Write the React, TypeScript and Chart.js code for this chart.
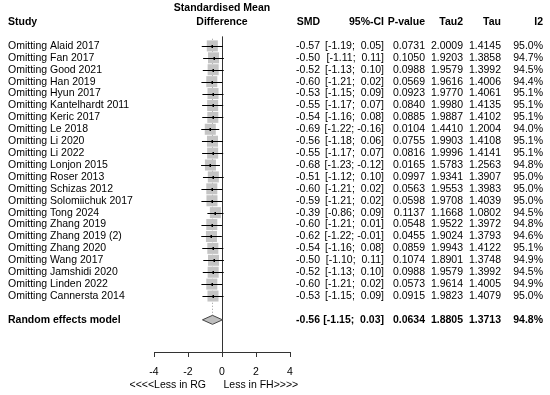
import React, { useEffect, useRef } from "react";
import { Chart, registerables } from "chart.js";

Chart.register(...registerables);

const studies = [
  "Omitting Alaid 2017", "Omitting Fan 2017", "Omitting Good 2021", "Omitting Han 2019",
  "Omitting Hyun 2017", "Omitting Kantelhardt 2011", "Omitting Keric 2017", "Omitting Le 2018",
  "Omitting Li 2020", "Omitting Li 2022", "Omitting Lonjon 2015", "Omitting Roser 2013",
  "Omitting Schizas 2012", "Omitting Solomiichuk 2017", "Omitting Tong 2024", "Omitting Zhang 2019",
  "Omitting Zhang 2019 (2)", "Omitting Zhang 2020", "Omitting Wang 2017", "Omitting Jamshidi 2020",
  "Omitting Linden 2022", "Omitting Cannersta 2014",
];
const smd = [-0.57, -0.5, -0.52, -0.6, -0.53, -0.55, -0.54, -0.69, -0.56, -0.55, -0.68, -0.51, -0.6, -0.59, -0.39, -0.6, -0.62, -0.54, -0.5, -0.52, -0.6, -0.53];
const ciLower = [-1.19, -1.11, -1.13, -1.21, -1.15, -1.17, -1.16, -1.22, -1.18, -1.17, -1.23, -1.12, -1.21, -1.21, -0.86, -1.21, -1.22, -1.16, -1.1, -1.13, -1.21, -1.15];
const ciUpper = [0.05, 0.11, 0.1, 0.02, 0.09, 0.07, 0.08, -0.16, 0.06, 0.07, -0.12, 0.1, 0.02, 0.02, 0.09, 0.01, -0.01, 0.08, 0.11, 0.1, 0.02, 0.09];
const pValue = [0.0731, 0.105, 0.0988, 0.0569, 0.0923, 0.084, 0.0885, 0.0104, 0.0755, 0.0816, 0.0165, 0.0997, 0.0563, 0.0598, 0.1137, 0.0548, 0.0455, 0.0859, 0.1074, 0.0988, 0.0573, 0.0915];
const tau2 = [2.0009, 1.9203, 1.9579, 1.9616, 1.977, 1.998, 1.9887, 1.441, 1.9903, 1.9996, 1.5783, 1.9341, 1.9553, 1.9708, 1.1668, 1.9522, 1.9024, 1.9943, 1.8901, 1.9579, 1.9614, 1.9823];
const tau = [1.4145, 1.3858, 1.3992, 1.4006, 1.4061, 1.4135, 1.4102, 1.2004, 1.4108, 1.4141, 1.2563, 1.3907, 1.3983, 1.4039, 1.0802, 1.3972, 1.3793, 1.4122, 1.3748, 1.3992, 1.4005, 1.4079];
const i2 = [95.0, 94.7, 94.5, 94.4, 95.1, 95.1, 95.1, 94.0, 95.1, 95.1, 94.8, 95.0, 95.0, 95.0, 94.5, 94.8, 94.6, 95.1, 94.9, 94.5, 94.9, 95.0];

const pooledLabel = "Random effects model";
const pooledSmd = -0.56;
const pooledLower = -1.15;
const pooledUpper = 0.03;
const pooledP = 0.0634;
const pooledTau2 = 1.8805;
const pooledTau = 1.3713;
const pooledI2 = 94.8;

const xTicks = [-4, -2, 0, 2, 4];
const headers = ["SMD", "95%-CI", "P-value", "Tau2", "Tau", "I2"];
const titleLines = ["Standardised Mean", "Difference"];
const labelLeft = "<<<<Less in RG";
const labelRight = "Less in FH>>>>";

const FONT = '"Liberation Sans", Arial, Helvetica, sans-serif';
const FS = 10.5;
const COLS = [320, 384, 425, 463, 501, 543];

const fmtCI = (l: number, u: number) => {
  const a = l.toFixed(2);
  const b = u.toFixed(2);
  return `[${a};${u < 0 ? " " : "  "}${b}]`;
};

export default function App() {
  const ref = useRef<HTMLCanvasElement>(null);
  useEffect(() => {
    document.body.style.margin = "0";
    const canvas = ref.current!;
    const pooledRow = studies.length + 1;

    const forestPlugin = {
      id: "forest",
      beforeDatasetsDraw(chart: any) {
        const { ctx, scales } = chart;
        const x = scales.x;
        const y = scales.y;
        const xp = x.getPixelForValue(pooledSmd);
        ctx.save();
        ctx.strokeStyle = "#999";
        ctx.lineWidth = 1;
        ctx.setLineDash([1, 2]);
        ctx.beginPath();
        ctx.moveTo(Math.round(xp) + 0.5, y.getPixelForValue(-0.6));
        ctx.lineTo(Math.round(xp) + 0.5, y.getPixelForValue(pooledRow) - 4);
        ctx.stroke();
        ctx.restore();
      },
      afterDatasetsDraw(chart: any) {
        const { ctx, scales } = chart;
        const x = scales.x;
        const y = scales.y;
        const x0 = x.getPixelForValue(0);
        const xp = x.getPixelForValue(pooledSmd);
        ctx.save();
        ctx.strokeStyle = "#333";
        ctx.lineWidth = 1;
        ctx.beginPath();
        ctx.moveTo(Math.round(x0) + 0.5, y.getPixelForValue(-0.8));
        ctx.lineTo(Math.round(x0) + 0.5, chart.chartArea.bottom);
        ctx.stroke();
        ctx.strokeStyle = "#000";
        studies.forEach((_, i) => {
          const yy = Math.round(y.getPixelForValue(i)) + 0.5;
          ctx.beginPath();
          ctx.moveTo(x.getPixelForValue(ciLower[i]), yy);
          ctx.lineTo(x.getPixelForValue(ciUpper[i]), yy);
          ctx.stroke();
          ctx.fillStyle = "#000";
          ctx.fillRect(Math.round(x.getPixelForValue(smd[i])) - 0.5, yy - 1.5, 1.5, 3);
        });
        const yd = y.getPixelForValue(pooledRow);
        ctx.beginPath();
        ctx.moveTo(x.getPixelForValue(pooledLower), yd);
        ctx.lineTo(xp, yd - 4.5);
        ctx.lineTo(x.getPixelForValue(pooledUpper), yd);
        ctx.lineTo(xp, yd + 4.5);
        ctx.closePath();
        ctx.fillStyle = "#bebebe";
        ctx.fill();
        ctx.strokeStyle = "#444";
        ctx.stroke();
        ctx.restore();
      },
      afterDraw(chart: any) {
        const { ctx, scales } = chart;
        const x = scales.x;
        const y = scales.y;
        const x0 = x.getPixelForValue(0);
        ctx.save();
        ctx.fillStyle = "#000";
        ctx.textBaseline = "middle";
        ctx.font = `bold ${FS}px ${FONT}`;
        ctx.textAlign = "center";
        ctx.fillText(titleLines[0], x0, 8);
        ctx.fillText(titleLines[1], x0, 22);
        ctx.textAlign = "left";
        ctx.fillText("Study", 8, 22);
        ctx.textAlign = "right";
        headers.forEach((h, k) => ctx.fillText(h, COLS[k], 22));
        const row = (label: string, vals: string[], yy: number, bold: boolean) => {
          ctx.font = `${bold ? "bold " : ""}${FS}px ${FONT}`;
          ctx.textAlign = "left";
          ctx.fillText(label, 8, yy);
          ctx.textAlign = "right";
          vals.forEach((v, k) => ctx.fillText(v, COLS[k], yy));
        };
        studies.forEach((s, i) => {
          row(s, [smd[i].toFixed(2), fmtCI(ciLower[i], ciUpper[i]), pValue[i].toFixed(4), tau2[i].toFixed(4), tau[i].toFixed(4), i2[i].toFixed(1) + "%"], y.getPixelForValue(i), false);
        });
        row(pooledLabel, [pooledSmd.toFixed(2), fmtCI(pooledLower, pooledUpper), pooledP.toFixed(4), pooledTau2.toFixed(4), pooledTau.toFixed(4), pooledI2.toFixed(1) + "%"], y.getPixelForValue(pooledRow), true);
        ctx.font = `${FS}px ${FONT}`;
        ctx.textAlign = "right";
        ctx.fillText(labelLeft, x0 - 16, 385);
        ctx.textAlign = "left";
        ctx.fillText(labelRight, x0 + 1.5, 385);
        ctx.restore();
      },
    };

    const chart = new Chart(canvas, {
      type: "scatter",
      data: {
        datasets: [
          {
            data: smd.map((v, i) => ({ x: v, y: i })),
            pointStyle: "rect",
            pointRadius: 7.8,
            backgroundColor: "#c4c4c4",
            borderWidth: 0,
          },
        ],
      },
      options: {
        animation: false,
        responsive: false,
        events: [],
        layout: { padding: { left: 154, right: 260, top: 34, bottom: 0 } },
        plugins: { legend: { display: false }, tooltip: { enabled: false } },
        scales: {
          x: {
            type: "linear",
            min: -4,
            max: 4,
            afterBuildTicks: (s: any) => {
              s.ticks = xTicks.map((v) => ({ value: v }));
            },
            afterFit: (s: any) => {
              s.height = 43;
            },
            ticks: { color: "#000", font: { family: FONT, size: FS }, padding: 9, maxRotation: 0 },
            grid: { drawOnChartArea: false, drawTicks: true, tickLength: 5, color: "#333" },
            border: { display: true, color: "#333" },
          },
          y: { type: "linear", display: false, reverse: true, min: -1, max: 25.7 },
        },
      },
      plugins: [forestPlugin],
    });
    return () => chart.destroy();
  }, []);
  return <canvas ref={ref} width={550} height={395} style={{ display: "block" }} />;
}
